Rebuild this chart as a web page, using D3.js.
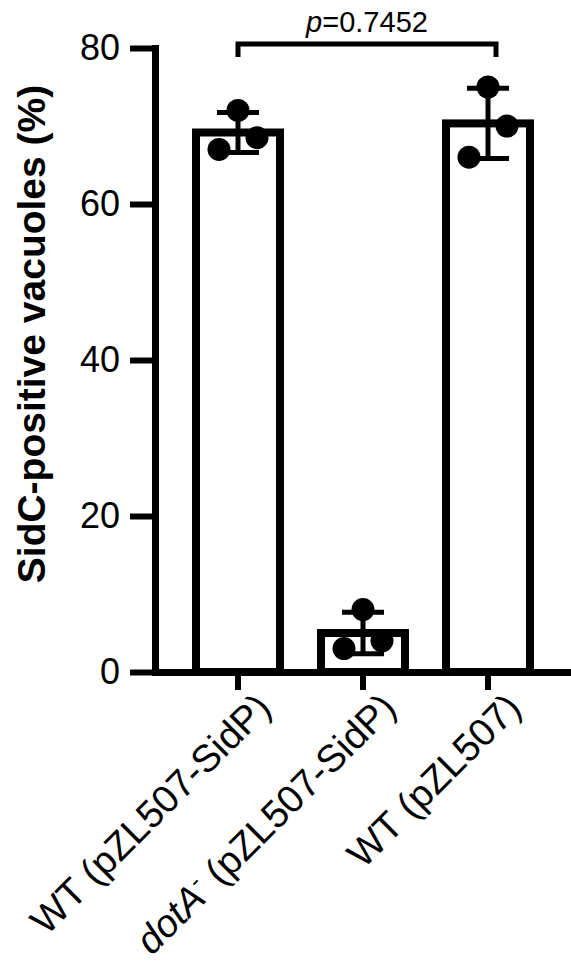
<!DOCTYPE html>
<html>
<head>
<meta charset="utf-8">
<script src="https://cdn.jsdelivr.net/npm/d3@7"></script>
<style>
  body { margin: 0; background: #fff; }
  svg { display: block; font-family: "Liberation Sans", Arial, sans-serif; }
  .axis .domain, .axis line { stroke: #000; }
  .axis text { fill: #000; }
</style>
</head>
<body>
<div id="chart"></div>
<script>
// groups and the three replicate values
const groups = ['WT (pZL507-SidP)', 'dotA- (pZL507-SidP)', 'WT (pZL507)'];
const replicates = [
    [72, 68.5, 67],
    [8, 3, 4],
    [75, 70, 66]
];
const yTicks = [0, 20, 40, 60, 80];
const pLabel = '0.7452';

const width = 571;
const height = 961;

const data = groups.map((g, i) => {
    const vals = replicates[i];
    return { key: g, values: vals, mean: d3.mean(vals), sd: d3.deviation(vals) };
});

const svg = d3.select('#chart').append('svg')
    .attr('width', width)
    .attr('height', height);

const scaleY = d3.scaleLinear()
    .domain([0, 80])
    .range([672, 48]);

const scaleX = d3.scaleBand()
    .domain(groups)
    .range([155, 571])
    .padding(0.328);

const barW = scaleX.bandwidth();
const cx = d => scaleX(d.key) + barW / 2;

// y axis
const axisY = d3.axisLeft(scaleY)
    .tickValues(yTicks)
    .tickSize(25)
    .tickSizeOuter(0)
    .tickPadding(10);

const yAxisNode = svg.append('g')
    .attr('class', 'axis axis-y')
    .attr('transform', 'translate(155,0)')
    .call(axisY);
yAxisNode.select('.domain').attr('stroke-width', 7).attr('stroke-linecap', 'square');
yAxisNode.selectAll('line').attr('stroke-width', 6);
yAxisNode.selectAll('text').style('font-size', '36px');

// x axis
const axisX = d3.axisBottom(scaleX)
    .tickSize(18)
    .tickSizeOuter(0)
    .tickFormat('');

const xAxisNode = svg.append('g')
    .attr('class', 'axis axis-x')
    .attr('transform', 'translate(0,672)')
    .call(axisX);
xAxisNode.select('.domain').attr('stroke-width', 7);
xAxisNode.selectAll('line').attr('stroke-width', 6);

// rotated group labels
const labels = svg.append('g').attr('class', 'xlabels')
    .selectAll('text')
    .data(data)
    .enter().append('text')
    .attr('transform', d => `translate(${cx(d) + 35},${710}) rotate(-45)`)
    .attr('text-anchor', 'end')
    .style('font-size', '38.5px');

labels.each(function(d) {
    const t = d3.select(this);
    if (d.key.startsWith('dotA')) {
        t.append('tspan').style('font-style', 'italic').text('dotA');
        t.append('tspan').attr('dy', -15).style('font-size', '24px').text('-');
        t.append('tspan').attr('dy', 15).text(' (pZL507-SidP)');
    } else {
        t.text(d.key);
    }
});

// bars
svg.append('g').attr('class', 'bars')
    .selectAll('rect')
    .data(data)
    .enter().append('rect')
    .attr('x', d => scaleX(d.key))
    .attr('y', d => scaleY(d.mean))
    .attr('width', barW)
    .attr('height', d => scaleY(0) - scaleY(d.mean))
    .attr('fill', '#fff')
    .attr('stroke', '#000')
    .attr('stroke-width', 8);

// error bars (mean +/- sd)
const err = svg.append('g').attr('class', 'errors')
    .selectAll('g')
    .data(data)
    .enter().append('g')
    .attr('stroke', '#000')
    .attr('stroke-width', 5);
err.append('line')
    .attr('x1', cx).attr('x2', cx)
    .attr('y1', d => scaleY(d.mean - d.sd))
    .attr('y2', d => scaleY(d.mean + d.sd));
err.append('line')
    .attr('x1', d => cx(d) - 21).attr('x2', d => cx(d) + 21)
    .attr('y1', d => scaleY(d.mean + d.sd))
    .attr('y2', d => scaleY(d.mean + d.sd));
err.append('line')
    .attr('x1', d => cx(d) - 21).attr('x2', d => cx(d) + 21)
    .attr('y1', d => scaleY(d.mean - d.sd))
    .attr('y2', d => scaleY(d.mean - d.sd));

// replicate points, spread like a scatter over the bar
const jitter = [0, 19, -19];
const points = [];
data.forEach(d => {
    const order = d.values.map((v, i) => i).sort((a, b) => d.values[b] - d.values[a]);
    order.forEach((idx, k) => points.push({ x: cx(d) + jitter[k], v: d.values[idx] }));
});
svg.append('g').attr('class', 'points')
    .selectAll('circle')
    .data(points)
    .enter().append('circle')
    .attr('cx', d => d.x)
    .attr('cy', d => scaleY(d.v))
    .attr('r', 11.5)
    .attr('fill', '#000');

// significance bracket
const xa = cx(data[0]);
const xb = cx(data[2]) + 8;
svg.append('path')
    .attr('d', `M${xa},57V44H${xb}V57`)
    .attr('fill', 'none')
    .attr('stroke', '#000')
    .attr('stroke-width', 5);

const pText = svg.append('text')
    .attr('x', (xa + xb) / 2)
    .attr('y', 32)
    .attr('text-anchor', 'middle')
    .style('font-size', '29px');
pText.append('tspan').style('font-style', 'italic').text('p');
pText.append('tspan').text('=' + pLabel);

// y title
svg.append('text')
    .attr('transform', `translate(45,${334}) rotate(-90)`)
    .attr('text-anchor', 'middle')
    .style('font-size', '39px')
    .style('font-weight', 'bold')
    .text('SidC-positive vacuoles (%)');
</script>
</body>
</html>
